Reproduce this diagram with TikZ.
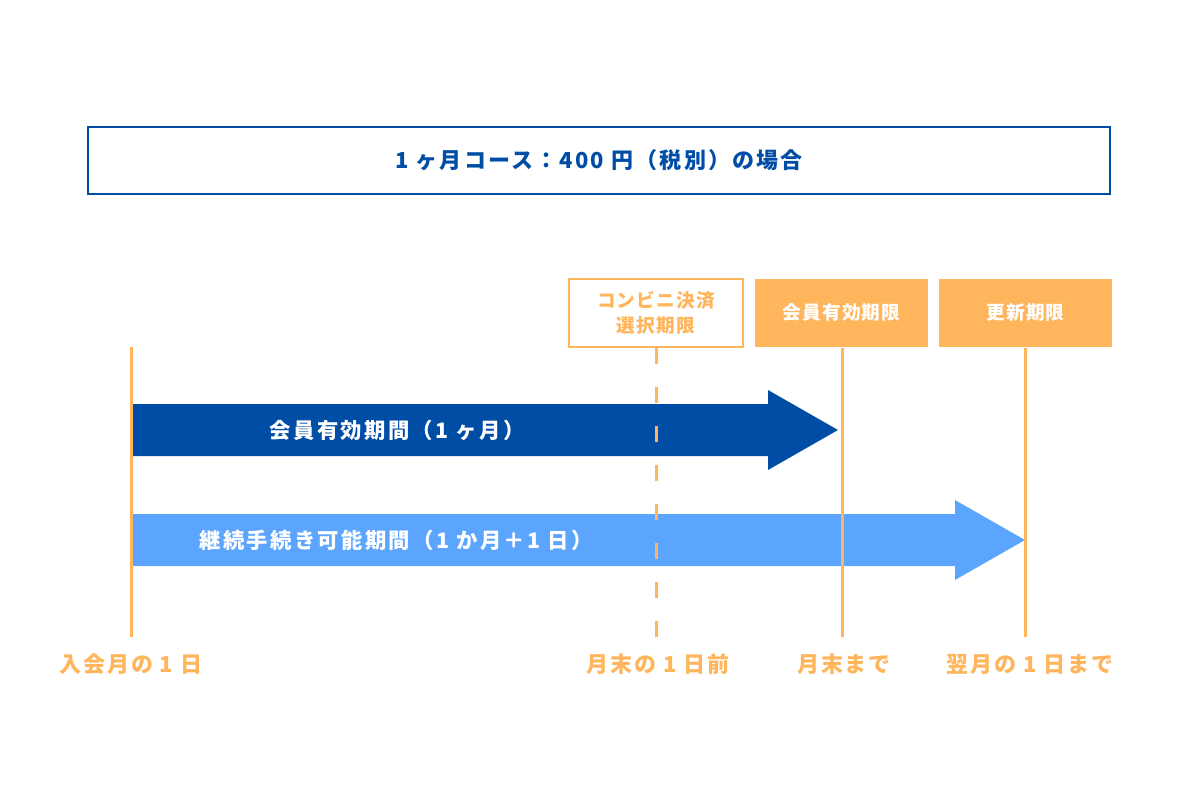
\documentclass[tikz,border=0pt]{standalone}
\usepackage{fontspec}
\setmainfont{Noto Sans CJK JP}
\definecolor{navy}{HTML}{004DA6}
\definecolor{sky}{HTML}{5CA5FF}
\definecolor{peach}{HTML}{FFB55C}

\begin{document}
\begin{tikzpicture}[x=0.75pt,y=-0.75pt,line width=2.25pt,
  title box/.style={draw=navy,line width=1.5pt,minimum width=767pt,minimum height=50pt,text=navy,font=\bfseries\fontsize{16.5}{18}\selectfont\addfontfeature{LetterSpace=10}},
  limit box/.style={minimum width=130pt,minimum height=51pt,align=center,font=\bfseries\fontsize{14}{19}\selectfont\addfontfeature{LetterSpace=6}},
  bar label/.style={text=white,font=\bfseries\fontsize{16}{18}\selectfont\addfontfeature{LetterSpace=11}},
  day label/.style={text=peach,font=\bfseries\fontsize{16.5}{20}\selectfont\addfontfeature{LetterSpace=8}},
  time line/.style={draw=peach}]

  \useasboundingbox (0,0) rectangle (1200,800);

  \node[title box] (title) at (599,160.5) {1 ヶ月コース：400 円（税別）の場合};

  % limit boxes
  \node[limit box,draw=peach,line width=1.5pt,text=peach] (cvs) at (656,312.5) {コンビニ決済\\選択期限};
  \node[limit box,fill=peach,text=white] (member) at (841.5,312.5) {会員有効期限};
  \node[limit box,fill=peach,text=white] (renew) at (1025.5,312.5) {更新期限};

  % arrows
  \fill[navy] (131,404) -- (768,404) -- (768,390) -- (838,430) -- (768,470) -- (768,456) -- (131,456) -- cycle;
  \fill[sky] (131,514) -- (955,514) -- (955,500) -- (1025,540) -- (955,580) -- (955,566) -- (131,566) -- cycle;
  \node[bar label] (valid) at (397,430) {会員有効期間（1 ヶ月）};
  \node[bar label] (cont) at (396,540) {継続手続き可能期間（1 か月＋1 日）};

  % day labels
  \node[day label] (join) at (131,664) {入会月の 1 日};
  \node[day label] (eve) at (658,664) {月末の 1 日前};
  \node[day label] (end) at (844,664) {月末まで};
  \node[day label] (next) at (1030,664) {翌月の 1 日まで};

  \coordinate (start) at (131,347);
  \draw[time line] (start) -- (start |- 0,637);
  \draw[time line,dash pattern=on 12.4pt off 16.9pt] (cvs.south) -- (cvs.south |- 0,637);
  \draw[time line] (member.south -| 842,0) -- (842,637);
  \draw[time line] (renew.south) -- (renew.south |- 0,637);
\end{tikzpicture}
\end{document}
